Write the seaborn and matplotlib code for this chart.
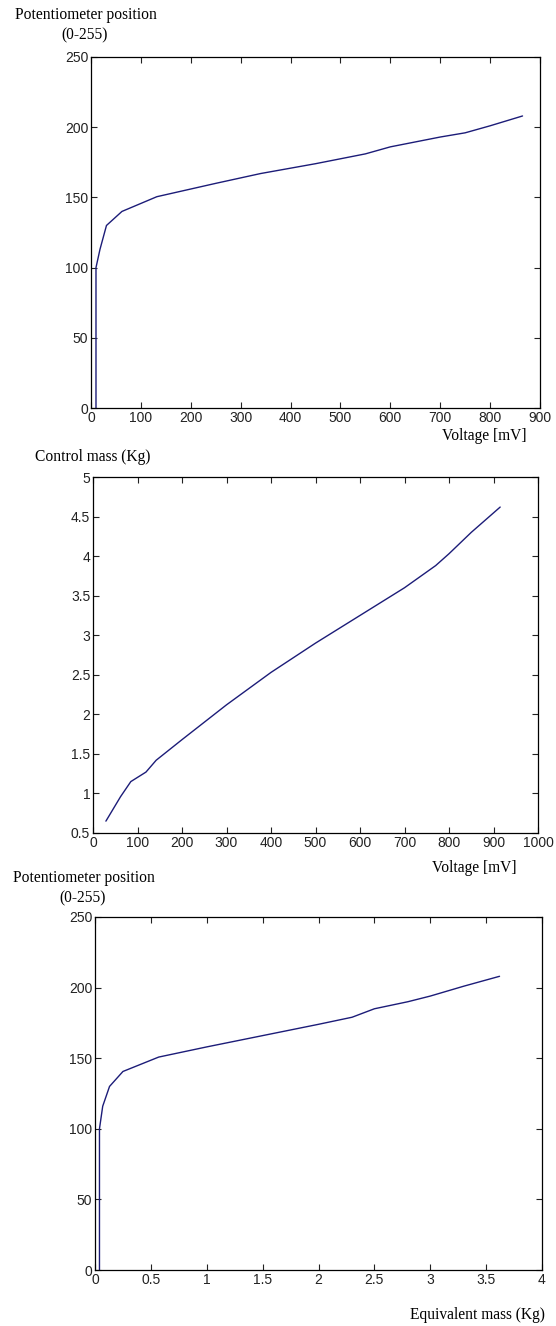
import matplotlib
matplotlib.use("Agg")
import matplotlib.pyplot as plt
import seaborn as sns
import pandas as pd

# Chart 1: Voltage [mV] vs potentiometer position
v1_voltage = [10, 10, 18, 31, 62, 132, 250, 340, 450, 550, 600, 700, 750, 800, 865]
v1_position = [0, 100, 113, 130, 140, 150.5, 160, 167, 174, 181, 186, 193, 196, 201, 208]

# Chart 2: Voltage [mV] vs control mass (Kg)
v2_voltage = [29, 62, 85, 119, 142, 200, 300, 400, 500, 600, 700, 770, 800, 850, 915]
v2_mass = [0.65, 0.96, 1.15, 1.27, 1.42, 1.68, 2.12, 2.53, 2.9, 3.25, 3.6, 3.88, 4.03, 4.3, 4.62]

# Chart 3: Equivalent mass (Kg) vs potentiometer position
v3_mass = [0.04, 0.04, 0.069, 0.13, 0.25, 0.57, 1.0, 1.5, 2.0, 2.3, 2.5, 2.8, 3.0, 3.3, 3.62]
v3_position = [0, 100, 116, 130, 140.6, 150.8, 158, 166, 174, 179, 185, 190, 194, 201, 208]

sns.set_style("ticks")
plt.rcParams['font.family'] = ['Liberation Sans', 'DejaVu Sans']
plt.rcParams['xtick.direction'] = 'in'
plt.rcParams['ytick.direction'] = 'in'

LINE = "#1c1c78"
SERIF = ['Liberation Serif', 'DejaVu Serif']
TICKC = "#222222"

fig = plt.figure(figsize=(5.56, 13.26), dpi=100)
W, H = 556, 1326

def make_ax(l, t, r, b):
    return fig.add_axes([l / W, 1 - b / H, (r - l) / W, (b - t) / H])

def style(ax):
    for s in ax.spines.values():
        s.set_linewidth(0.9)
        s.set_color("black")
    ax.tick_params(axis='both', which='both', top=True, right=True, length=4,
                   width=0.8, labelsize=10, colors=TICKC, pad=2)
    ax.set_xlabel("")
    ax.set_ylabel("")

ax1 = make_ax(91, 57, 540, 408)
d1 = pd.DataFrame({"x": v1_voltage, "y": v1_position})
sns.lineplot(data=d1, x="x", y="y", ax=ax1, sort=False, estimator=None, color=LINE, linewidth=1)
ax1.set_xlim(0, 900); ax1.set_ylim(0, 250)
ax1.set_xticks(range(0, 901, 100)); ax1.set_yticks(range(0, 251, 50))
style(ax1)

ax2 = make_ax(93, 477, 538, 833)
d2 = pd.DataFrame({"x": v2_voltage, "y": v2_mass})
sns.lineplot(data=d2, x="x", y="y", ax=ax2, sort=False, estimator=None, color=LINE, linewidth=1)
ax2.set_xlim(0, 1000); ax2.set_ylim(0.5, 5)
ax2.set_xticks(range(0, 1001, 100))
ax2.set_yticks([0.5, 1, 1.5, 2, 2.5, 3, 3.5, 4, 4.5, 5])
ax2.set_yticklabels(["0.5", "1", "1.5", "2", "2.5", "3", "3.5", "4", "4.5", "5"])
style(ax2)

ax3 = make_ax(95, 917, 542, 1270)
d3 = pd.DataFrame({"x": v3_mass, "y": v3_position})
sns.lineplot(data=d3, x="x", y="y", ax=ax3, sort=False, estimator=None, color=LINE, linewidth=1)
ax3.set_xlim(0, 4); ax3.set_ylim(0, 250)
ax3.set_xticks([0, 0.5, 1, 1.5, 2, 2.5, 3, 3.5, 4])
ax3.set_xticklabels(["0", "0.5", "1", "1.5", "2", "2.5", "3", "3.5", "4"])
ax3.set_yticks(range(0, 251, 50))
style(ax3)

def ftext(x, y, s, ha="left"):
    fig.text(x / W, 1 - y / H, s, ha=ha, va="center", fontsize=11.2, family=SERIF, color="black")

ftext(15, 15, "Potentiometer position")
ftext(85, 35, "(0-255)", ha="center")
ftext(526, 436, "Voltage [mV]", ha="right")
ftext(35, 457, "Control mass (Kg)")
ftext(516, 868, "Voltage [mV]", ha="right")
ftext(13, 878, "Potentiometer position")
ftext(83, 898, "(0-255)", ha="center")
ftext(545, 1315, "Equivalent mass (Kg)", ha="right")

fig.savefig("out.png", dpi=100)
